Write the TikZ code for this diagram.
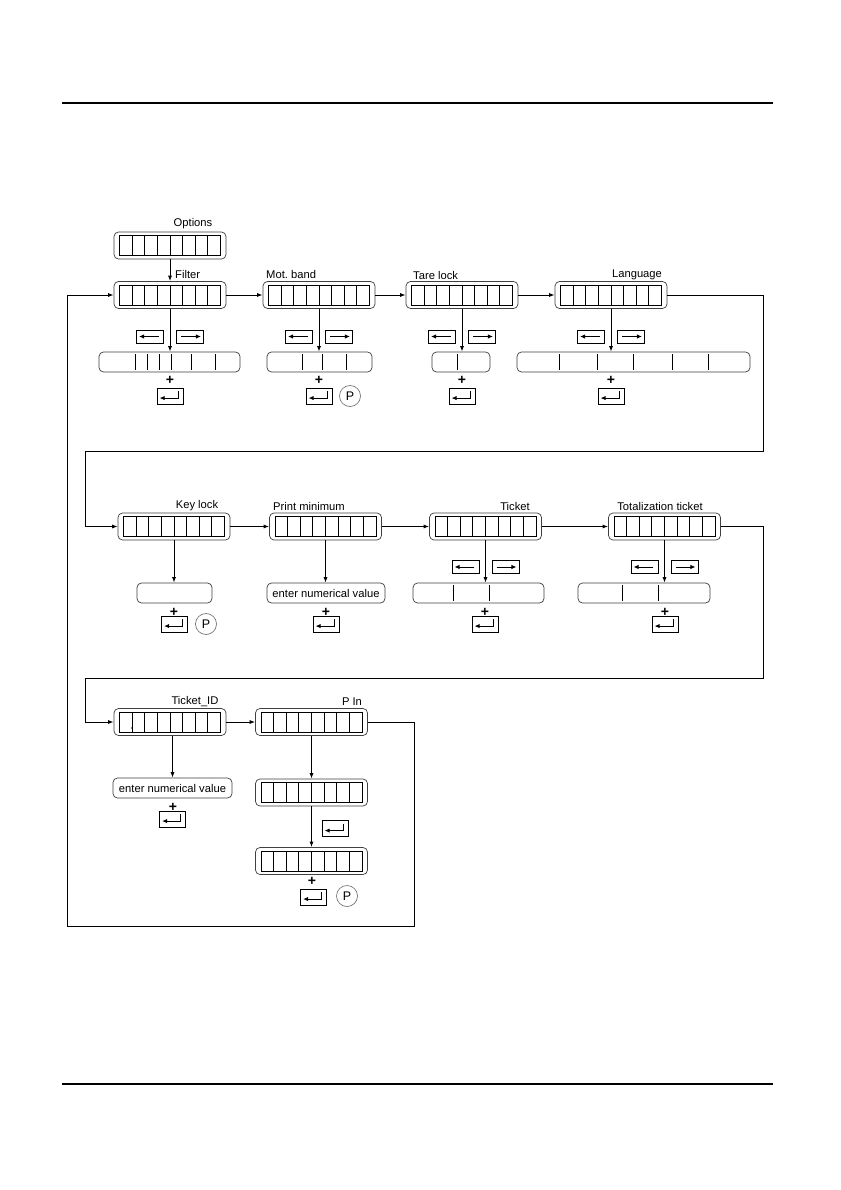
\documentclass[tikz,border=0pt]{standalone}
\usepackage{fontspec}
\setmainfont{Liberation Sans}
\usetikzlibrary{arrows.meta,calc}
\frenchspacing
\newcommand\lblfont{\fontsize{11.2}{13}\selectfont}
\newcommand\plusfont{\fontsize{14}{14}\selectfont\bfseries}
\newcommand\pfont{\fontsize{12.5}{12.5}\selectfont}
\tikzset{
  ln/.style={line width=0.9pt},
  arr/.style={ln,-{Latex[length=5.5pt,width=4pt]}},
  tip/.style={ln,-{Latex[length=5pt,width=4.4pt]}},
  disp/.style={draw=black!75, line width=0.7pt, rounded corners=4.5pt, minimum width=112pt, minimum height=27pt, inner sep=0pt},
  opt/.style={draw=black!75, line width=0.7pt, rounded corners=4.5pt, minimum height=20pt, inner sep=0pt, font=\lblfont},
  lbl/.style={font=\lblfont, inner sep=0pt},
  btn/.style={draw, line width=0.85pt, minimum width=27pt, minimum height=13pt, inner sep=0pt},
  entbtn/.style={draw, line width=0.85pt, minimum width=26pt, minimum height=16pt, inner sep=0pt},
  pbtn/.style={draw=black!60, line width=0.6pt, circle, minimum size=21pt, inner sep=0pt, font=\pfont},
  plus/.style={font=\plusfont, inner sep=0pt},
}
\newcommand\dispbox[3]{%
  \node[disp] (#1) at (#2,#3) {};
  \draw[ln] (#2-50.5,#3-10) rectangle (#2+50.5,#3+10);
  \foreach \k in {1,...,7} \draw[ln] ({#2-50.5+\k*12.625},#3-10) -- ++(0,20);
}
\newcommand\optbox[5]{%
  \node[opt, minimum width={#3-#2}] (#1) at ({(#2+#3)/2},#4) {};
  \foreach \d in {#5} \draw[ln] (\d,#4-8) -- (\d,#4+8);
}
\newcommand\arrbtns[3]{%
  \node[btn] (#1L) at (#2-20,#3) {};
  \draw[tip] ($(#1L.east)+(-5,0)$) -- ($(#1L.west)+(3,0)$);
  \node[btn] (#1R) at (#2+20,#3) {};
  \draw[tip] ($(#1R.west)+(5,0)$) -- ($(#1R.east)+(-3,0)$);
}
\newcommand\entkey[3]{%
  \node[entbtn] (#1) at (#2,#3) {};
  \draw[tip] ($(#1.north east)+(-5,3.5)$) -- ($(#1.north east)+(-5,10.5)$) -- ($(#1.north west)+(3,10.5)$);
}
\begin{document}
\begin{tikzpicture}[x=1pt,y=-1pt]
\fill[white] (0,0) rectangle (840,1190);
\useasboundingbox (0,0) rectangle (840,1190);
\draw[line width=1.3pt] (62,103) -- (773,103);
\draw[line width=1.3pt] (62,1084) -- (773,1084);

% ---------- row 1
\node[lbl] (lOptions) at (193,224) {Options};
\dispbox{options}{170}{245.5}
\node[lbl,anchor=west] (lFilter) at (175,274) {Filter};
\dispbox{filter}{170}{295}
\node[lbl,anchor=west] (lMot) at (266,274) {Mot.\ band};
\dispbox{mot}{319}{295}
\node[lbl,anchor=west] (lTare) at (413,275) {Tare lock};
\dispbox{tare}{462}{295}
\node[lbl] (lLang) at (637,275) {Language};
\dispbox{lang}{611}{295}

\optbox{fopt}{99}{240}{362}{135,147,159,171,191,215}
\optbox{mopt}{267}{372}{362}{302,322,346}
\optbox{topt}{432}{490}{362}{457}
\optbox{lopt}{517}{750}{362}{559,597,633,672,708}

\draw[arr] (options) -- (filter);
\draw[arr] (filter) -- (mot);
\draw[arr] (mot) -- (tare);
\draw[arr] (tare) -- (lang);
\draw[arr] (filter.south) -- (filter.south |- fopt.north);
\draw[arr] (mot.south) -- (mot.south |- mopt.north);
\draw[arr] (tare.south) -- (tare.south |- topt.north);
\draw[arr] (lang.south) -- (lang.south |- lopt.north);

\arrbtns{fb}{170}{336.5}
\arrbtns{mb}{319}{336.5}
\arrbtns{tb}{462}{336.5}
\arrbtns{lb}{611}{336.5}

\node[plus] (p1) at (170,380) {+};
\node[plus] (p2) at (319,380) {+};
\node[plus] (p3) at (462,380) {+};
\node[plus] (p4) at (611,380) {+};
\entkey{fe}{170}{396}
\entkey{me}{319}{396}
\node[pbtn] (mp) at (350,396) {P};
\entkey{te}{462}{396}
\entkey{le}{611}{396}

% ---------- row 2
\node[lbl] (lKey) at (197,506) {Key lock};
\dispbox{key}{174}{526.5}
\node[lbl,anchor=west] (lPmin) at (273,506) {Print minimum};
\dispbox{pmin}{325.5}{526.5}
\node[lbl] (lTicket) at (515,506) {Ticket};
\dispbox{ticket}{485.5}{526.5}
\node[lbl] (lTotal) at (660,506) {Totalization ticket};
\dispbox{total}{664.5}{526.5}

\node[opt, minimum width=75] (kopt) at (174.5,593) {};
\node[opt, minimum width=118] (popt) at (326,593) {enter numerical value};
\optbox{tkopt}{413}{544}{593}{453,489}
\optbox{toopt}{578}{710}{593}{622,658}

\draw[arr] (key) -- (pmin);
\draw[arr] (pmin) -- (ticket);
\draw[arr] (ticket) -- (total);
\draw[arr] (key.south) -- (key.south |- kopt.north);
\draw[arr] (pmin.south) -- (pmin.south |- popt.north);
\draw[arr] (ticket.south) -- (ticket.south |- tkopt.north);
\draw[arr] (total.south) -- (total.south |- toopt.north);

\arrbtns{tkb}{485.5}{567}
\arrbtns{tob}{664.5}{567}

\node[plus] (p5) at (174,612) {+};
\node[plus] (p6) at (326,612) {+};
\node[plus] (p7) at (485,612) {+};
\node[plus] (p8) at (665,612) {+};
\entkey{ke}{174.5}{624}
\node[pbtn] (kp) at (206,624) {P};
\entkey{pe}{326}{624}
\entkey{tke}{485}{624}
\entkey{toe}{665}{624}

% ---------- row 3
\node[lbl] (lTid) at (195,702) {Ticket\_ID};
\dispbox{tid}{170}{722}
\fill (132,728) circle (0.9);
\node[lbl] (lPin) at (352,702) {P In};
\dispbox{pin}{311.5}{722}
\node[opt, minimum width=119] (tidopt) at (172.5,788) {enter numerical value};
\dispbox{pin2}{311.5}{792.5}
\dispbox{pin3}{311.5}{861}

\draw[arr] (tid) -- (pin);
\draw[arr] (tidopt.north |- tid.south) -- (tidopt.north);
\draw[arr] (pin) -- (pin2);
\draw[arr] (pin2) -- (pin3);

\node[plus] (p9) at (173,807) {+};
\entkey{tide}{172.5}{819}
\entkey{pine}{335}{828.5}
\node[plus] (p10) at (312,881) {+};
\entkey{pin3e}{313.5}{897}
\node[pbtn] (pinp) at (347,896) {P};

% ---------- loops
\coordinate (r1) at (763,451);
\coordinate (l1) at (85,451);
\coordinate (r2) at (763,678);
\coordinate (l2) at (85,678);
\coordinate (r3) at (414,926);
\coordinate (l3) at (67,926);
\draw[arr] (lang.east) -| (r1) -- (l1) |- (key.west);
\draw[arr] (total.east) -| (r2) -- (l2) |- (tid.west);
\draw[arr] (pin.east) -| (r3) -- (l3) |- (filter.west);
\end{tikzpicture}
\end{document}
